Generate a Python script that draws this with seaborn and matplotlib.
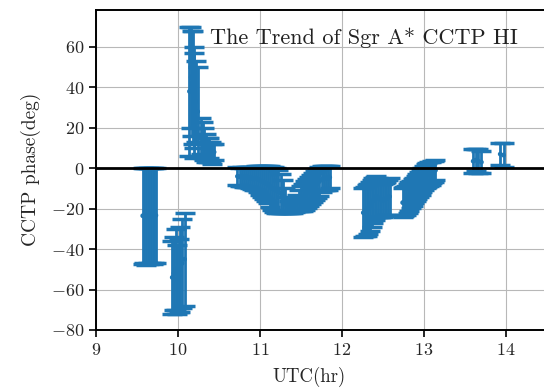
import matplotlib
matplotlib.use("Agg")
import matplotlib.pyplot as plt
import numpy as np
import pandas as pd
import seaborn as sns

# Observation times (UTC hours), CCTP phase (deg) and 1-sigma phase errors
utc = [
    9.57, 9.59, 9.61, 9.63, 9.65, 9.67, 9.69, 9.71, 9.73,
    9.93, 9.95, 9.97, 9.99, 10.01, 10.03, 10.05, 10.08,
    10.14, 10.16, 10.17, 10.18, 10.19, 10.20, 10.22, 10.24,
    10.28, 10.30, 10.32, 10.34, 10.36, 10.38, 10.40, 10.42, 10.44,
    10.725, 10.750, 10.775, 10.800, 10.825, 10.850, 10.875, 10.900, 10.925,
    10.950, 10.975, 11.000, 11.025, 11.050, 11.075, 11.100, 11.125, 11.150,
    11.175, 11.200, 11.225, 11.250, 11.275, 11.300, 11.325, 11.350, 11.375,
    11.400, 11.425, 11.450, 11.475, 11.500, 11.525, 11.550, 11.575, 11.600,
    11.625, 11.650, 11.675, 11.700, 11.725, 11.750, 11.775, 11.800, 11.825,
    11.850,
    12.26, 12.28, 12.30, 12.32, 12.34, 12.36, 12.38, 12.40, 12.42,
    12.44, 12.46, 12.48, 12.50, 12.52, 12.54, 12.56, 12.58,
    12.74, 12.76, 12.78, 12.80, 12.82, 12.84, 12.86, 12.88, 12.90, 12.92,
    12.94, 12.96, 12.98, 13.00, 13.02, 13.04, 13.06, 13.08, 13.10, 13.12,
    13.14,
    13.60, 13.63, 13.66, 13.70,
    13.93, 13.97,
]
phase = [
    -23.5, -23.2, -23.8, -23.4, -23.6, -23.3, -23.7, -23.5, -23.3,
    -54.0, -52.0, -50.0, -55.0, -53.0, -50.0, -47.0, -45.0,
    38.0, 45.0, 42.0, 40.0, 35.0, 31.0, 33.0, 28.0,
    16.0, 14.0, 12.0, 10.0, 9.0, 10.0, 8.0, 7.0, 8.0,
    -4.0, -4.2, -4.0, -4.5, -4.2, -4.5, -4.8, -5.0, -5.2,
    -5.0, -5.5, -6.0, -6.5, -7.0, -7.5, -8.0, -9.0, -10.0,
    -10.5, -11.0, -11.5, -12.5, -14.0, -16.0, -18.0, -19.0, -19.5,
    -19.0, -18.5, -17.0, -16.0, -15.0, -14.5, -13.5, -12.5, -11.5,
    -10.5, -9.5, -8.5, -7.5, -6.5, -5.5, -5.0, -5.0, -5.0,
    -4.5,
    -22.0, -21.5, -21.0, -20.0, -19.0, -17.5, -16.0, -15.0, -14.0,
    -14.5, -15.0, -15.5, -16.0, -15.5, -15.0, -14.5, -14.0,
    -17.0, -16.5, -16.0, -15.0, -14.0, -13.0, -12.0, -11.0, -10.0, -9.0,
    -8.0, -7.0, -6.0, -5.0, -4.0, -3.5, -3.0, -2.5, -2.0, -1.5,
    -1.0,
    3.5, 4.0, 3.5, 3.0,
    7.0, 6.5,
]
phase_err = [
    23.7, 23.5, 24.0, 23.6, 23.8, 23.4, 23.9, 23.6, 23.5,
    18.0, 18.0, 20.0, 17.0, 18.0, 21.0, 22.0, 23.0,
    32.0, 25.0, 26.0, 28.0, 25.0, 26.0, 20.0, 22.0,
    9.0, 9.0, 8.0, 7.0, 6.0, 5.0, 5.0, 5.0, 4.0,
    4.5, 4.5, 4.8, 4.8, 5.0, 5.0, 5.2, 5.5, 5.5,
    6.0, 6.5, 7.0, 7.5, 8.0, 8.5, 9.0, 10.0, 10.5,
    11.0, 11.0, 10.5, 9.5, 8.0, 6.0, 4.0, 3.0, 2.5,
    3.0, 3.0, 4.0, 5.0, 6.0, 6.5, 7.0, 7.0, 7.0,
    7.0, 7.0, 7.0, 7.0, 7.0, 6.5, 6.0, 6.0, 6.0,
    5.5,
    12.0, 12.2, 12.5, 12.3, 12.0, 11.5, 11.0, 10.5, 10.0,
    9.5, 9.0, 8.5, 8.0, 8.0, 8.0, 8.5, 9.0,
    7.0, 7.0, 7.0, 7.0, 7.0, 6.8, 6.5, 6.2, 6.0, 6.0,
    6.0, 6.0, 6.0, 6.0, 6.0, 6.0, 6.0, 5.8, 5.5, 5.2,
    5.0,
    6.0, 5.5, 5.8, 5.5,
    5.5, 6.0,
]

x_ticks = [9, 10, 11, 12, 13, 14]
y_ticks = [-80, -60, -40, -20, 0, 20, 40, 60]

df = pd.DataFrame({"utc": utc, "phase": phase, "err": phase_err})

sns.set_theme(style="ticks")
plt.rcParams.update({
    "font.family": "serif",
    "font.serif": ["cmr10", "DejaVu Serif"],
    "mathtext.fontset": "cm",
    "axes.formatter.use_mathtext": True,
    "axes.unicode_minus": True,
})

blue = "#1f77b4"
fig = plt.figure(figsize=(5.44, 3.90), dpi=100)
ax = fig.add_axes([96 / 544, 60 / 390, 492 / 544, 320.5 / 390])

ax.grid(True, color="#b8b8b8", linewidth=0.8)
ax.set_axisbelow(True)

ax.errorbar(df["utc"], df["phase"], yerr=df["err"], fmt="none",
            ecolor=blue, elinewidth=2.0, capsize=7, capthick=2.5, zorder=2)
sns.scatterplot(data=df, x="utc", y="phase", ax=ax, color=blue, s=12,
                edgecolor="none", zorder=3, legend=False)
ax.axhline(0, color="black", linewidth=2.0, zorder=4)

ax.set_xlim(9, 15)
ax.set_ylim(-80, 78.5)
ax.set_xticks(x_ticks)
ax.set_yticks(y_ticks)
ax.tick_params(labelsize=13, length=5, width=1.2, color="black", direction="out")

for side in ["left", "bottom", "top", "right"]:
    ax.spines[side].set_color("black")
    ax.spines[side].set_linewidth(1.4)

ax.set_xlabel("UTC(hr)", fontsize=13.5)
ax.set_ylabel("CCTP phase(deg)", fontsize=14)
ax.xaxis.set_label_coords((309 - 96) / 492, -0.115)
ax.yaxis.set_label_coords(-0.112, 0.5)

ax.text(10.39, 64.5, "The Trend of Sgr A* CCTP HI", fontsize=16,
        va="center", ha="left", color="#222222", zorder=5)

fig.savefig("out.png", dpi=100)
